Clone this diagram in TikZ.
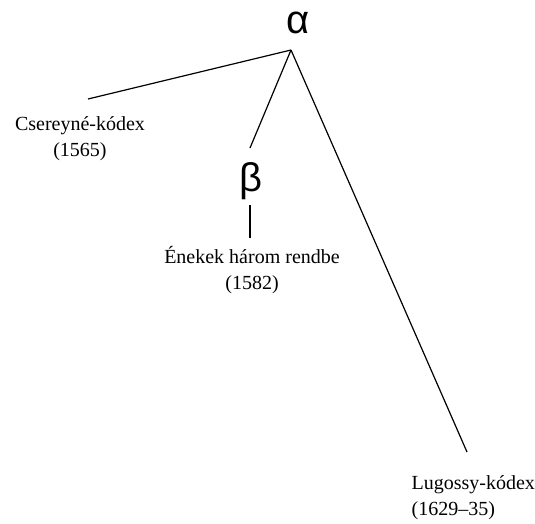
\documentclass[tikz,border=0pt]{standalone}
\usepackage{fontspec}
\setmainfont{Liberation Serif}
\newfontfamily\greekfont{Liberation Sans}
\tikzset{
    codex/.style={align=center, inner sep=0pt, font=\fontsize{20}{26}\selectfont},
    siglum/.style={anchor=base, inner sep=0pt, text height=0.6em, font=\greekfont\fontsize{40}{40}\selectfont},
}
\begin{document}
\begin{tikzpicture}[x=1pt, y=-1pt, line width=1.2pt]
    \useasboundingbox (0, 0) rectangle (535, 523);
    % lost archetype and its branches
    \node[siglum] (alpha) at (298, 33) {α};
    \coordinate (top) at (291, 50);
    \coordinate (left) at (88, 99);
    \coordinate (mid) at (250, 148);
    \coordinate (right) at (467, 452);
    \draw (top) -- (left);
    \draw (top) -- (mid);
    \draw (top) -- (right);
    % intermediate copy
    \node[siglum] (beta) at (251, 191) {β};
    \coordinate (bup) at (250, 205);
    \coordinate (bdown) at (250, 238);
    \draw (bup) -- (bdown);
    % surviving codices
    \node[codex] (cserey) at (80, 139) {Csereyné-kódex\\(1565)};
    \node[codex] (enekek) at (252, 270) {Énekek három rendbe\\(1582)};
    \node[codex, align=left, anchor=west] (lugossy) at (411, 498) {Lugossy-kódex\\(1629–35)};
\end{tikzpicture}
\end{document}
